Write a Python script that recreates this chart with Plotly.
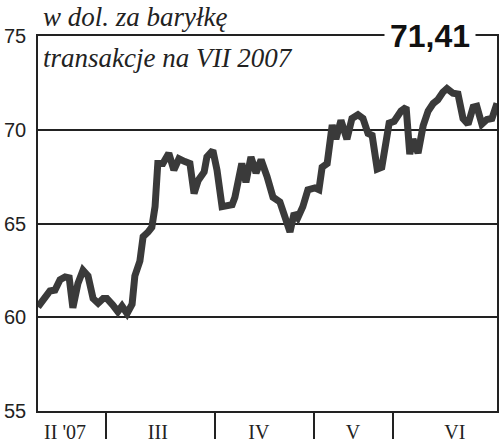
import plotly.graph_objects as go

# numer sesji (oś X) i cena ropy w dol. za baryłkę
sesja = [0, 1.5, 2.6, 3.7, 4.8, 5.9, 6.8, 7.6, 8.7, 9.8, 10.9, 12.0, 13.1, 14.2, 15.0,
         16.3, 17.4, 18.3, 19.4, 20.5, 21.1, 22.2, 22.9, 24.0, 24.8, 25.5, 26.1, 27.2,
         28.5, 29.6, 30.7, 32.0, 33.1, 34.0, 34.9, 36.2, 36.8, 38.1, 39.0, 40.1, 42.3,
         42.9, 44.4, 45.3, 46.4, 47.5, 48.6, 49.9, 51.2, 52.7, 53.8, 54.9, 55.8, 56.6,
         57.7, 58.8, 60.3, 61.2, 61.9, 63.0, 64.1, 64.9, 66.0, 67.3, 68.4, 69.7, 70.8,
         71.9, 72.8, 73.9, 74.9, 76.5, 77.6, 79.1, 80.2, 81.0, 81.7, 82.8, 83.9, 85.0,
         86.1, 87.1, 88.2, 89.1, 90.4, 91.5, 92.6, 93.7, 94.8, 95.6, 96.7, 97.8, 98.9, 100]
cena = [60.55, 61.1, 61.4, 61.45, 62.0, 62.15, 62.1, 60.5, 61.8, 62.5, 62.2, 61.0, 60.75,
        61.0, 61.0, 60.65, 60.3, 60.6, 60.2, 60.7, 62.2, 63.0, 64.3, 64.55, 64.8, 65.9,
        68.2, 68.2, 68.75, 67.85, 68.45, 68.3, 68.2, 66.6, 67.3, 67.75, 68.55, 68.9, 67.85,
        65.9, 66.0, 66.4, 68.2, 67.2, 68.55, 67.7, 68.4, 67.5, 66.4, 66.15, 65.35, 64.55,
        65.55, 65.3, 65.9, 66.8, 66.9, 66.8, 68.0, 68.2, 70.25, 69.5, 70.5, 69.5, 70.6,
        70.8, 70.6, 69.8, 69.7, 67.9, 68.0, 70.35, 70.45, 71.0, 71.2, 68.7, 69.5, 68.75,
        70.2, 71.0, 71.4, 71.6, 72.0, 72.2, 71.95, 71.9, 70.6, 70.3, 71.2, 71.25, 70.3,
        70.55, 70.6, 71.41]

miesiace = ["II '07", "III", "IV", "V", "VI"]
miesiace_srodek = [5.9, 26.1, 48.1, 68.6, 90.8]
granice_miesiecy = [14.8, 38.6, 60.1, 77.3]
y_ticki = [55, 60, 65, 70, 75]
ostatnia = "71,41"

fig = go.Figure()
fig.add_trace(go.Scatter(
    x=sesja, y=cena, mode="lines",
    line=dict(color="#3a3a3a", width=7, shape="linear"),
    hoverinfo="skip", showlegend=False,
))

fig.update_layout(
    width=500, height=445,
    margin=dict(l=38, r=3, t=36, b=34, autoexpand=False),
    paper_bgcolor="white", plot_bgcolor="white",
    showlegend=False,
    xaxis=dict(
        range=[0, 100], showgrid=False, zeroline=False, automargin=False,
        showline=True, linecolor="#222", linewidth=1.5, mirror=True,
        tickmode="array", tickvals=miesiace_srodek, ticktext=miesiace,
        ticks="", ticklabelstandoff=2,
        tickfont=dict(family="Liberation Serif", size=20, color="#222"),
        minor=dict(tickmode="array", tickvals=granice_miesiecy, ticks="outside",
                   ticklen=26, tickwidth=1.5, tickcolor="#222", showgrid=False),
    ),
    yaxis=dict(
        range=[55, 75], tickvals=y_ticki, ticks="", automargin=False,
        showgrid=True, gridcolor="#222", gridwidth=1.5, zeroline=False,
        showline=True, linecolor="#222", linewidth=1.5, mirror=True,
        tickfont=dict(family="Liberation Sans", size=20, color="#222"),
        ticklabelstandoff=6,
    ),
)

fig.add_annotation(
    text="w dol. za baryłkę", xref="paper", yref="paper", x=0.006, y=1.05,
    xanchor="left", yanchor="middle", showarrow=False,
    font=dict(family="Liberation Serif", size=27, color="#222", style="italic"),
)
fig.add_annotation(
    text="transakcje na VII 2007", xref="paper", yref="paper", x=0.006, y=0.941,
    xanchor="left", yanchor="middle", showarrow=False,
    font=dict(family="Liberation Serif", size=27, color="#222", style="italic"),
)
fig.add_annotation(
    text="<b>" + ostatnia + "</b>", xref="paper", yref="paper", x=0.854, y=1.0,
    xanchor="center", yanchor="middle", showarrow=False,
    bgcolor="white", borderpad=5,
    font=dict(family="Liberation Sans", size=32, color="#111"),
)

# strona bez domyślnego marginesu 8 px, bez paska narzędzi
fig.write_html("out.html", config={"displayModeBar": False},
               post_script="document.body.style.margin='0';")
